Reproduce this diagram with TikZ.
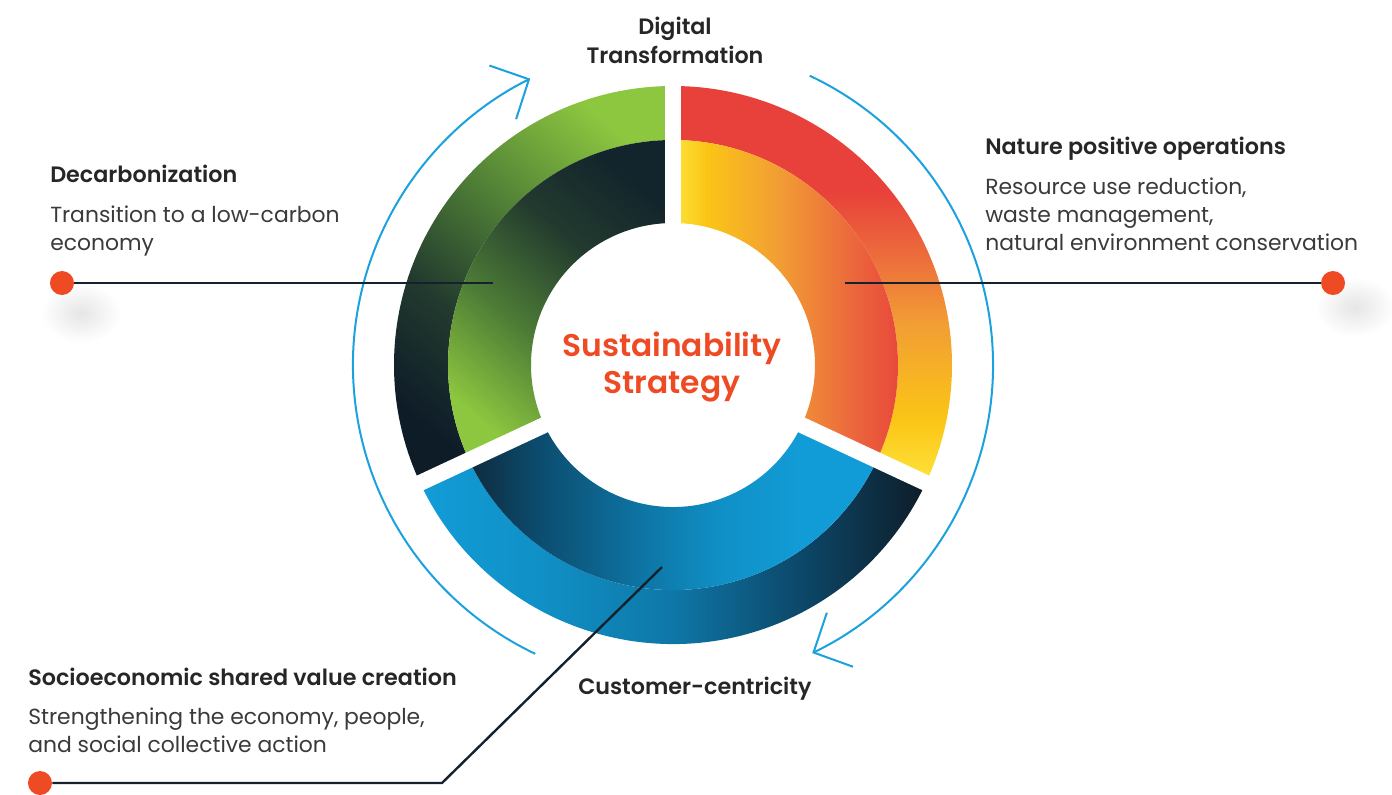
\documentclass[tikz,border=0pt]{standalone}
\usepackage{fontspec}
\setmainfont{Poppins}[BoldFont={Poppins SemiBold}]
\usetikzlibrary{arrows.meta,positioning}

\definecolor{navy}{HTML}{0E1C28}
\definecolor{navytop}{HTML}{13252C}
\definecolor{lgreen}{HTML}{8DC63F}
\definecolor{mgreen}{HTML}{4E7D36}
\definecolor{dgreen}{HTML}{223A2E}
\definecolor{ored}{HTML}{E8403A}
\definecolor{ored2}{HTML}{EC6A3C}
\definecolor{oorange}{HTML}{F29E34}
\definecolor{ogold}{HTML}{FBC516}
\definecolor{oyellow}{HTML}{FDE43C}
\definecolor{lblue}{HTML}{129CD7}
\definecolor{sblue}{HTML}{1090C6}
\definecolor{mblue}{HTML}{0E77A7}
\definecolor{dblue}{HTML}{0C4A6C}
\definecolor{ddblue}{HTML}{0F2A3C}
\definecolor{arcblue}{HTML}{1BA1DE}
\definecolor{pinred}{HTML}{EE4A24}
\definecolor{linenavy}{HTML}{15222D}
\definecolor{titlegray}{HTML}{262626}
\definecolor{bodygray}{HTML}{3A3A3A}

% ring shadings
\pgfdeclareverticalshading{greenouter}{100bp}{color(0bp)=(navy); color(25bp)=(navy); color(40bp)=(dgreen); color(56bp)=(mgreen); color(75bp)=(lgreen); color(100bp)=(lgreen)}
\pgfdeclareverticalshading{greeninner}{100bp}{color(0bp)=(lgreen); color(25bp)=(lgreen); color(42bp)=(mgreen); color(60bp)=(dgreen); color(75bp)=(navytop); color(100bp)=(navytop)}
\pgfdeclareverticalshading{redouter}{100bp}{color(0bp)=(oyellow); color(25bp)=(oyellow); color(33bp)=(ogold); color(45bp)=(oorange); color(54bp)=(ored2); color(62bp)=(ored); color(100bp)=(ored)}
\pgfdeclarehorizontalshading{redinner}{100bp}{color(0bp)=(oyellow); color(25bp)=(oyellow); color(32bp)=(ogold); color(47bp)=(oorange); color(62bp)=(ored2); color(75bp)=(ored); color(100bp)=(ored)}
\pgfdeclarehorizontalshading{blueouter}{100bp}{color(0bp)=(lblue); color(25bp)=(lblue); color(37bp)=(sblue); color(50bp)=(mblue); color(62bp)=(dblue); color(75bp)=(navy); color(100bp)=(navy)}
\pgfdeclarehorizontalshading{blueinner}{100bp}{color(0bp)=(ddblue); color(25bp)=(ddblue); color(33bp)=(dblue); color(47bp)=(mblue); color(56bp)=(sblue); color(66bp)=(lblue); color(100bp)=(lblue)}

\begin{document}
\begin{tikzpicture}[x=0.75pt,y=0.75pt,
    ringpart/.style n args={4}{insert path={(#1:#3) arc[start angle=#1, end angle=#2, radius=#3] -- (#2:#4) arc[start angle=#2, end angle=#1, radius=#4] -- cycle}},
    gap/.style={white, line width=12pt},
    turnarc/.style={arcblue, line width=1.5pt, -{Straight Barb[length=22pt, width=45pt, line width=1.5pt]}},
    link/.style={linenavy, line width=1.8pt},
    pin/.style={circle, fill=pinred, minimum size=18pt, inner sep=0pt},
    pinshadow/.style={inner color=black!10, outer color=white},
    title/.style={font=\bfseries\fontsize{16.7}{21.3}\selectfont, text=titlegray, inner sep=0pt, align=left},
    desc/.style={font=\fontsize{16.4}{20.8}\selectfont, text=bodygray, inner sep=0pt, align=left}]
  \useasboundingbox (-673,-429) rectangle (719,365);

  % Ring
  \shade[shading=greenouter, shading angle=-40, ringpart={90}{205}{279}{225}];
  \shade[shading=greeninner, shading angle=-40, ringpart={90}{205}{225}{142}];
  \shade[shading=redouter, ringpart={-25}{90}{279}{225}];
  \shade[shading=redinner, ringpart={-25}{90}{225}{142}];
  \shade[shading=blueouter, ringpart={205}{335}{279}{225}];
  \shade[shading=blueinner, ringpart={205}{335}{225}{142}];
  \draw[gap] (0,0) -- (90:300);
  \draw[gap] (0,0) -- (205:300);
  \draw[gap] (0,0) -- (335:300);

  % Turning arrows
  \draw[turnarc] (244.5:320) arc[start angle=244.5, end angle=116.5, radius=320];
  \draw[turnarc] (64.7:320) arc[start angle=64.7, end angle=-64.2, radius=320];

  % Pins
  \shade[pinshadow] (-592,52) ellipse[x radius=40, y radius=30];
  \shade[pinshadow] (682,58) ellipse[x radius=40, y radius=30];
  \node[pin] (decpin) at (-611,82) {};
  \node[pin] (natpin) at (660,82) {};
  \node[pin] (socpin) at (-633,-418) {};
  \coordinate (greenend) at (-180,82);
  \coordinate (orangeend) at (172,82);
  \coordinate (blueend) at (-11,-202);
  \coordinate (socbend) at (-231,-418);
  \draw[link] (decpin) -- (greenend);
  \draw[link] (orangeend) -- (natpin);
  \draw[link] (socpin) -- (socbend) -- (blueend);

  % Labels (base = last line)
  \node[title, align=center, anchor=base] (digital) at (2,302) {Digital\\Transformation};
  \node[title, anchor=base west] (dectitle) at (-623,183) {Decarbonization};
  \node[desc, anchor=base west] (dectext) at (-623,115) {Transition to a low-carbon\\economy};
  \node[title, anchor=base west] (nattitle) at (312,211) {Nature positive operations};
  \node[desc, anchor=base west] (nattext) at (312,115) {Resource use reduction,\\waste management,\\natural environment conservation};
  \node[title, anchor=base west] (soctitle) at (-645,-320) {Socioeconomic shared value creation};
  \node[desc, anchor=base west] (soctext) at (-645,-387) {Strengthening the economy, people,\\and social collective action};
  \node[title, anchor=base west] (custtitle) at (-95,-329) {Customer-centricity};
  \node[font=\bfseries\fontsize{23.5}{27.3}\selectfont, text=pinred, align=center, anchor=base, inner sep=0pt] (strategy) at (-1,-28) {Sustainability\\Strategy};
\end{tikzpicture}
\end{document}
